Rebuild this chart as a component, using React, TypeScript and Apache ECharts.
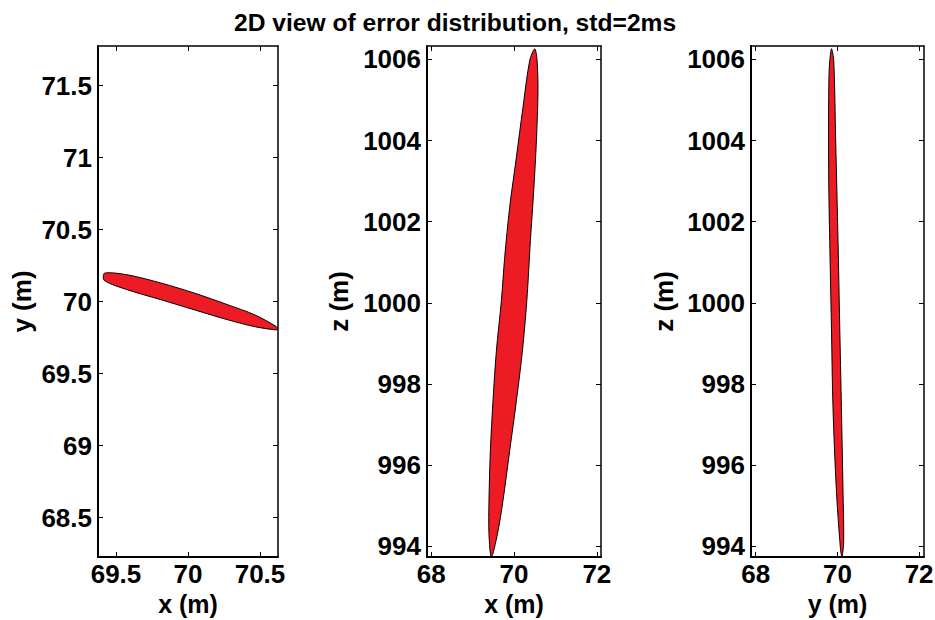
import React, { useEffect, useRef } from 'react';
import * as echarts from 'echarts';

const titleText = '2D view of error distribution, std=2ms';

const xyTicksX = [69.5, 70, 70.5];
const xyTicksY = [68.5, 69, 69.5, 70, 70.5, 71, 71.5];
const wideTicks = [68, 70, 72];
const zTicks = [994, 996, 998, 1000, 1002, 1004, 1006];

const xNames = ['x (m)', 'x (m)', 'y (m)'];
const yNames = ['y (m)', 'z (m)', 'z (m)'];

// outline of the error ellipse projected on the x-y plane
const xyOutline: [number, number][] = [
  [69.42, 70.197], [69.583, 70.185], [69.815, 70.128], [70.047, 70.058],
  [70.278, 69.977], [70.463, 69.908], [70.614, 69.826], [70.622, 69.812],
  [70.614, 69.803], [70.463, 69.826], [70.278, 69.873], [70.047, 69.942],
  [69.815, 70.012], [69.583, 70.081], [69.42, 70.146],
];

// outline on the x-z plane
const xzOutline: [number, number][] = [
  [70.5, 1006.26], [70.379, 1005.97], [70.217, 1004.82], [70.058, 1003.59],
  [69.896, 1002.36], [69.775, 1001.12], [69.696, 1000.06], [69.575, 998.82],
  [69.493, 997.59], [69.43, 996.36], [69.396, 995.13], [69.396, 994.3],
  [69.454, 993.74], [69.599, 994.3], [69.734, 995.13], [69.896, 996.36],
  [70.058, 997.59], [70.203, 998.82], [70.31, 1000.06], [70.396, 1001.54],
  [70.476, 1002.77], [70.541, 1004.0], [70.579, 1005.23], [70.555, 1006.0],
];

// outline on the y-z plane
const yzOutline: [number, number][] = [
  [69.853, 1006.26], [69.795, 1005.65], [69.787, 1003.18], [69.812, 1001.54],
  [69.853, 999.48], [69.892, 997.43], [69.976, 995.37], [70.073, 993.97],
  [70.112, 993.74], [70.154, 994.14], [70.137, 995.37], [70.098, 997.43],
  [70.056, 999.48], [70.015, 1001.54], [69.958, 1004.0], [69.91, 1005.97],
];

const FONT = '"Liberation Sans", Arial, Helvetica, sans-serif';

export default function App() {
  const ref = useRef<HTMLDivElement>(null);

  useEffect(() => {
    const chart = echarts.init(ref.current!, null, { renderer: 'svg' });

    const panels = [
      {
        grid: { left: 98, top: 46, width: 180, height: 511 },
        xRange: [69.375, 70.625], yRange: [68.226, 71.775],
        xTicks: xyTicksX, yTicks: xyTicksY, outline: xyOutline, yNameGap: 63,
      },
      {
        grid: { left: 427, top: 46, width: 174, height: 511 },
        xRange: [67.9, 72.1], yRange: [993.74, 1006.33],
        xTicks: wideTicks, yTicks: zTicks, outline: xzOutline, yNameGap: 75,
      },
      {
        grid: { left: 751, top: 46, width: 173, height: 511 },
        xRange: [67.885, 72.12], yRange: [993.74, 1006.33],
        xTicks: wideTicks, yTicks: zTicks, outline: yzOutline, yNameGap: 74,
      },
    ];

    const labelStyle = { fontSize: 26, fontWeight: 'bold', fontFamily: FONT, color: '#000' };
    const yNameStyle = { ...labelStyle, lineHeight: 26 };
    const xNameStyle = { ...labelStyle, fontSize: 25, lineHeight: 24 };
    const fmt = (v: number) => String(v);

    const grids: any[] = [];
    const xAxes: any[] = [];
    const yAxes: any[] = [];
    const series: any[] = [];

    panels.forEach((p, i) => {
      grids.push({
        ...p.grid, show: true, backgroundColor: '#fff', borderWidth: 0,
        containLabel: false, outerBoundsMode: 'none',
      });
      // bottom
      xAxes.push({
        type: 'value', gridIndex: i, position: 'bottom',
        min: p.xRange[0], max: p.xRange[1],
        name: xNames[i], nameLocation: 'middle', nameGap: 35, nameMoveOverlap: false,
        nameTextStyle: xNameStyle,
        axisLine: { show: true, onZero: false, lineStyle: { color: '#000', width: 2 } },
        axisTick: { show: true, inside: true, length: 5, customValues: p.xTicks, lineStyle: { color: '#000', width: 1 } },
        axisLabel: { show: true, margin: 6, lineHeight: 22, customValues: p.xTicks, formatter: fmt, ...labelStyle },
        splitLine: { show: false },
      });
      // top
      xAxes.push({
        type: 'value', gridIndex: i, position: 'top',
        min: p.xRange[0], max: p.xRange[1],
        axisLine: { show: true, onZero: false, lineStyle: { color: '#000', width: 1.5 } },
        axisTick: { show: true, inside: true, length: 5, customValues: p.xTicks, lineStyle: { color: '#000', width: 1 } },
        axisLabel: { show: false },
        splitLine: { show: false },
      });
      // left
      yAxes.push({
        type: 'value', gridIndex: i, position: 'left',
        min: p.yRange[0], max: p.yRange[1],
        name: yNames[i], nameLocation: 'middle', nameGap: p.yNameGap, nameRotate: 90,
        nameMoveOverlap: false,
        nameTextStyle: yNameStyle,
        axisLine: { show: true, onZero: false, lineStyle: { color: '#000', width: 2 } },
        axisTick: { show: true, inside: true, length: 5, customValues: p.yTicks, lineStyle: { color: '#000', width: 1 } },
        axisLabel: { show: true, margin: 6, customValues: p.yTicks, formatter: fmt, ...labelStyle },
        splitLine: { show: false },
      });
      // right
      yAxes.push({
        type: 'value', gridIndex: i, position: 'right',
        min: p.yRange[0], max: p.yRange[1],
        axisLine: { show: true, onZero: false, lineStyle: { color: '#000', width: 1.5 } },
        axisTick: { show: true, inside: true, length: 5, customValues: p.yTicks, lineStyle: { color: '#000', width: 1 } },
        axisLabel: { show: false },
        splitLine: { show: false },
      });

      const outline = p.outline;
      series.push({
        type: 'custom',
        xAxisIndex: i * 2,
        yAxisIndex: i * 2,
        clip: true,
        data: outline,
        encode: { x: 0, y: 1 },
        renderItem: (params: any, api: any) => {
          if (params.dataIndex !== 0) return null;
          const pts = outline.map((pt) => api.coord(pt));
          return {
            type: 'polygon',
            shape: { points: pts, smooth: 0.3 },
            style: { fill: '#ED1C24', stroke: '#000', lineWidth: 1 },
          };
        },
      });
    });

    chart.setOption({
      animation: false,
      backgroundColor: '#fff',
      title: {
        text: titleText,
        left: 229,
        top: 5,
        textStyle: { fontSize: 24.6, fontWeight: 'bold', fontFamily: FONT, color: '#000' },
      },
      grid: grids,
      xAxis: xAxes,
      yAxis: yAxes,
      series,
    });

    return () => chart.dispose();
  }, []);

  return (
    <div
      ref={ref}
      style={{ position: 'absolute', left: 0, top: 0, width: 935, height: 620, background: '#fff' }}
    />
  );
}
